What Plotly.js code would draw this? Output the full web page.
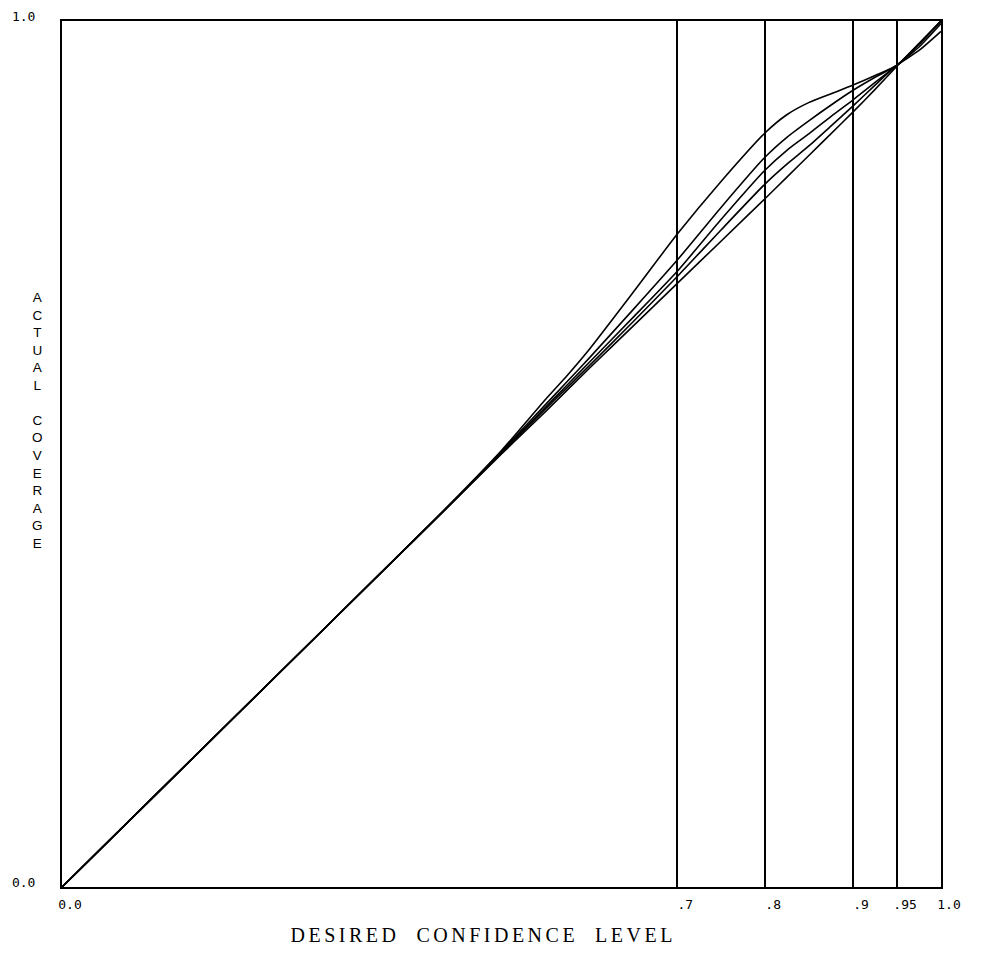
<!DOCTYPE html>
<html>
<head>
<meta charset="utf-8">
<script src="https://cdn.plot.ly/plotly-3.0.1.min.js"></script>
<style>html,body{margin:0;padding:0;background:#fff}#chart{width:981px;height:966px}</style>
</head>
<body>
<div id="chart"></div>
<script>
// Desired confidence level (x) shared by all curves
const desired = [0, 0.1, 0.2, 0.3, 0.4, 0.45, 0.5, 0.55, 0.575, 0.6, 0.65, 0.7, 0.75, 0.8, 0.825, 0.85, 0.875, 0.9, 0.925, 0.95, 0.975, 1.0];
// Actual coverage for each curve
const coverageA = [0, 0.1, 0.2, 0.3, 0.4, 0.451, 0.504, 0.563, 0.591, 0.621, 0.687, 0.754, 0.815, 0.871, 0.892, 0.906, 0.916, 0.926, 0.937, 0.949, 0.974, 1.0];
const coverageB = [0, 0.1, 0.2, 0.3, 0.4, 0.450, 0.503, 0.557, 0.584, 0.611, 0.667, 0.724, 0.785, 0.843, 0.866, 0.885, 0.903, 0.920, 0.935, 0.949, 0.973, 1.0];
const coverageC = [0, 0.1, 0.2, 0.3, 0.4, 0.450, 0.502, 0.554, 0.580, 0.606, 0.658, 0.711, 0.771, 0.828, 0.851, 0.870, 0.890, 0.909, 0.929, 0.949, 0.970, 0.997];
const coverageD = [0, 0.1, 0.2, 0.3, 0.4, 0.450, 0.501, 0.552, 0.577, 0.602, 0.653, 0.705, 0.759, 0.812, 0.835, 0.856, 0.879, 0.902, 0.926, 0.949, 0.966, 0.988];
const coverageE = [0, 0.1, 0.2, 0.3, 0.4, 0.450, 0.500, 0.549, 0.574, 0.599, 0.648, 0.697, 0.746, 0.795, 0.820, 0.845, 0.870, 0.895, 0.921, 0.948, 0.974, 1.0];

// Tick positions / labels
const xTickVals = [0, 0.7, 0.8, 0.9, 0.95, 1.0];
const xTickText = ['0.0', '.7', '.8', '.9', '.95', '1.0'];
const yTickVals = [0, 1.0];
const yTickText = ['0.0', '1.0'];

const xTitle = 'DESIRED  CONFIDENCE  LEVEL';
const yTitleLetters = ['A','C','T','U','A','L','','C','O','V','E','R','A','G','E'];

const series = [coverageA, coverageB, coverageC, coverageD, coverageE];
const traces = series.map(ys => ({
  x: desired, y: ys, type: 'scatter', mode: 'lines',
  line: {color: '#000', width: 1.6, shape: 'spline', smoothing: 0.6},
  hoverinfo: 'skip', showlegend: false
}));

const tickFont = {family: 'DejaVu Sans Mono, monospace', size: 13, color: '#000'};

const layout = {
  width: 981, height: 966,
  margin: {l: 62, r: 40, t: 21, b: 79},
  paper_bgcolor: '#fff', plot_bgcolor: '#fff',
  showlegend: false,
  xaxis: {
    range: [0, 1], tickmode: 'array', tickvals: xTickVals, ticktext: xTickText,
    showgrid: true, gridcolor: '#000', gridwidth: 1.6, zeroline: false,
    showline: true, linecolor: '#000', linewidth: 2, mirror: true,
    ticks: '', tickfont: tickFont, ticklabelshift: 8, ticklabelstandoff: 4
  },
  yaxis: {
    range: [0, 1], tickmode: 'array', tickvals: yTickVals, ticktext: yTickText,
    showgrid: false, zeroline: false,
    showline: true, linecolor: '#000', linewidth: 2, mirror: true,
    ticks: '', tickfont: tickFont, ticklabelstandoff: 22, ticklabelshift: -5
  },
  annotations: [
    {text: xTitle, xref: 'paper', yref: 'paper', x: 0.479, y: -0.0404, xanchor: 'center', yanchor: 'top',
     showarrow: false, font: {family: 'Liberation Serif, serif', size: 20, color: '#000'}},
    {text: yTitleLetters.join('<br>'), xref: 'paper', yref: 'paper', x: -0.028, y: 0.6917, xanchor: 'center', yanchor: 'top',
     showarrow: false, align: 'center', font: {family: 'Liberation Sans, sans-serif', size: 13.5, color: '#000'}}
  ]
};

Plotly.newPlot('chart', traces, layout, {staticPlot: true, displayModeBar: false}).then(gd => {
  // widen letter tracking of the x title like the plotter lettering
  gd.querySelectorAll('.annotation-text').forEach(t => {
    if (t.textContent.indexOf('DESIRED') === 0) t.style.letterSpacing = '3.5px';
  });
});
</script>
</body>
</html>
